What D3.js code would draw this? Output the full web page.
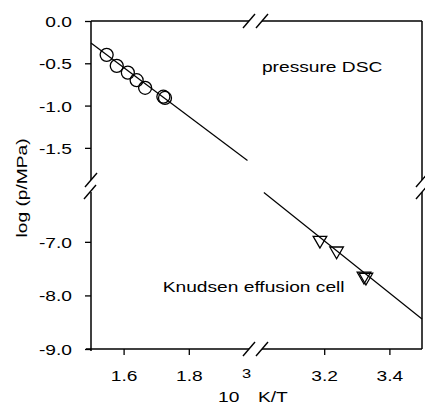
<!DOCTYPE html>
<html>
<head>
<meta charset="utf-8">
<title>log p vs 1000/T</title>
<style>
  body { margin: 0; background: #fff; }
  text { font-family: Arial, "Liberation Sans", sans-serif; fill: #000; }
</style>
</head>
<body>
<script src="https://d3js.org/d3.v7.min.js"></script>
<script>

var width = 425,
    height = 416,
    stretch = 1.37; // the scanned lettering is wide, stretch it along the text

// pressure DSC points (10^3 K/T, log p/MPa)
var dscX = [1.548, 1.579, 1.613, 1.640, 1.666, 1.722, 1.727];
var dscY = [-0.40, -0.53, -0.61, -0.70, -0.79, -0.895, -0.91];

// Knudsen effusion cell points
var knX = [3.187, 3.238, 3.322, 3.328];
var knY = [-6.97, -7.17, -7.64, -7.66];

// the fitted line, one piece per panel
var fitHiX = [1.5, 1.98], fitHiY = [-0.26, -1.65];
var fitLoX = [3.015, 3.5], fitLoY = [-6.08, -8.44];

// ticks
var yTicksHi = [0, -0.5, -1.0, -1.5], yMinorHi = [-0.25, -0.75, -1.25, -1.75];
var yTicksLo = [-7, -8, -9], yMinorLo = [-6.5, -7.5, -8.5];
var xTicksL = [1.6, 1.8], xMinorL = [1.7, 1.9];
var xTicksR = [3.2, 3.4], xMinorR = [3.1, 3.3];

var xL = d3.scaleLinear().domain([1.5, 2.0]).range([91, 254]),
    xR = d3.scaleLinear().domain([3.0, 3.5]).range([259, 422]),
    yHi = d3.scaleLinear().domain([-1.88, 0]).range([180, 21]),
    yLo = d3.scaleLinear().domain([-9, -6.07]).range([349, 192]);

// NB: "top" is taken by window.top, so prefix these
var plotL = xL.range()[0], plotR = xR.range()[1],
    plotT = yHi.range()[1], plotB = yLo.range()[0],
    breakY1 = yHi.range()[0], breakY2 = yLo.range()[1],
    breakX1 = 249, breakX2 = 262;

var svg = d3.select('body').append('svg')
    .attr('width', width)
    .attr('height', height);

function fmt(d) { return d.toFixed(1); }

function yAxis(scale, major, minor) {
  var g = svg.append('g').attr('transform', 'translate(' + plotL + ',0)');
  g.call(d3.axisLeft(scale).tickValues(minor).tickSize(4).tickFormat(''));
  g.call(d3.axisLeft(scale).tickValues(major).tickSize(6).tickFormat(fmt));
  styleAxis(g);
  g.selectAll('text')
    .attr('x', 0).attr('dy', 0)
    .attr('transform', 'translate(-19,5.5) scale(' + stretch + ',1)');
}

function xAxis(scale, major, minor) {
  var g = svg.append('g').attr('transform', 'translate(0,' + plotB + ')');
  g.call(d3.axisBottom(scale).tickValues(minor).tickSize(4).tickFormat(''));
  g.call(d3.axisBottom(scale).tickValues(major).tickSize(6).tickFormat(fmt));
  styleAxis(g);
  g.selectAll('text')
    .attr('y', 0).attr('dy', 0)
    .attr('transform', 'translate(0,32) scale(' + stretch + ',1)');
}

function styleAxis(g) {
  g.selectAll('.domain').remove();
  g.attr('font-size', 14).attr('font-family', 'Arial, "Liberation Sans", sans-serif');
  g.selectAll('line').attr('stroke', '#000').attr('stroke-width', 1.3);
}

yAxis(yHi, yTicksHi, yMinorHi);
yAxis(yLo, yTicksLo, yMinorLo);
xAxis(xL, xTicksL, xMinorL);
xAxis(xR, xTicksR, xMinorR);

// frame, broken in both directions
var frame = [
  [[plotL, plotT], [breakX1, plotT]], [[breakX2, plotT], [plotR, plotT]],
  [[plotL - 5, plotB], [breakX1, plotB]], [[breakX2, plotB], [plotR, plotB]],
  [[plotL, plotT], [plotL, breakY1]], [[plotL, breakY2], [plotL, plotB + 2]],
  [[plotR, plotT], [plotR, breakY1]], [[plotR, breakY2], [plotR, plotB]]
];
svg.append('g').selectAll('line')
  .data(frame)
  .enter().append('line')
    .attr('x1', function (d) { return d[0][0]; })
    .attr('y1', function (d) { return d[0][1]; })
    .attr('x2', function (d) { return d[1][0]; })
    .attr('y2', function (d) { return d[1][1]; })
    .attr('stroke', '#000')
    .attr('stroke-width', 1.5);

// break marks "//"
var slashes = [
  [plotL, breakY1], [plotL - 1, breakY2], [plotR, breakY1], [plotR, breakY2],
  [breakX1, plotT], [breakX2, plotT], [breakX1, plotB], [breakX2, plotB]
];
svg.append('g').selectAll('path')
  .data(slashes)
  .enter().append('path')
    .attr('d', function (d) {
      return 'M' + (d[0] - 6) + ',' + (d[1] + 7) + 'L' + (d[0] + 6) + ',' + (d[1] - 7);
    })
    .attr('stroke', '#000')
    .attr('stroke-width', 1.4);

// fit lines
var lineHi = d3.line().x(function (d) { return xL(d[0]); }).y(function (d) { return yHi(d[1]); });
var lineLo = d3.line().x(function (d) { return xR(d[0]); }).y(function (d) { return yLo(d[1]); });

svg.append('path')
  .attr('d', lineHi(d3.zip(fitHiX, fitHiY)))
  .attr('fill', 'none').attr('stroke', '#000').attr('stroke-width', 1.2);
svg.append('path')
  .attr('d', lineLo(d3.zip(fitLoX, fitLoY)))
  .attr('fill', 'none').attr('stroke', '#000').attr('stroke-width', 1.2);

// pressure DSC circles
svg.append('g').selectAll('circle')
  .data(d3.zip(dscX, dscY))
  .enter().append('circle')
    .attr('cx', function (d) { return xL(d[0]); })
    .attr('cy', function (d) { return yHi(d[1]); })
    .attr('r', 6.5)
    .attr('fill', 'none')
    .attr('stroke', '#000')
    .attr('stroke-width', 1.3);

// Knudsen triangles, pointing down
var tri = d3.symbol().type(d3.symbolTriangle).size(80);
svg.append('g').selectAll('path')
  .data(d3.zip(knX, knY))
  .enter().append('path')
    .attr('d', tri)
    .attr('transform', function (d) {
      return 'translate(' + xR(d[0]) + ',' + yLo(d[1]) + ') rotate(180)';
    })
    .attr('fill', 'none')
    .attr('stroke', '#000')
    .attr('stroke-width', 1.3);

// annotations
function label(x, y, txt, size, anchor, rot) {
  svg.append('text')
    .attr('transform', 'translate(' + x + ',' + y + ')' + (rot ? ' rotate(' + rot + ')' : '') +
      ' scale(' + stretch + ',1)')
    .attr('font-size', size)
    .attr('text-anchor', anchor || 'start')
    .text(txt);
}

label(xR(3.009), yHi(-0.6), 'pressure DSC', 14);
label(xL(1.72), yLo(-7.93), 'Knudsen effusion cell', 14);
label(27, (plotT + plotB) / 2 + 3, 'log (p/MPa)', 14, 'middle', -90);
label(218, 402, '10', 14);
label(242, 378, '3', 12);
label(258, 402, 'K/T', 14);

</script>
</body>
</html>
